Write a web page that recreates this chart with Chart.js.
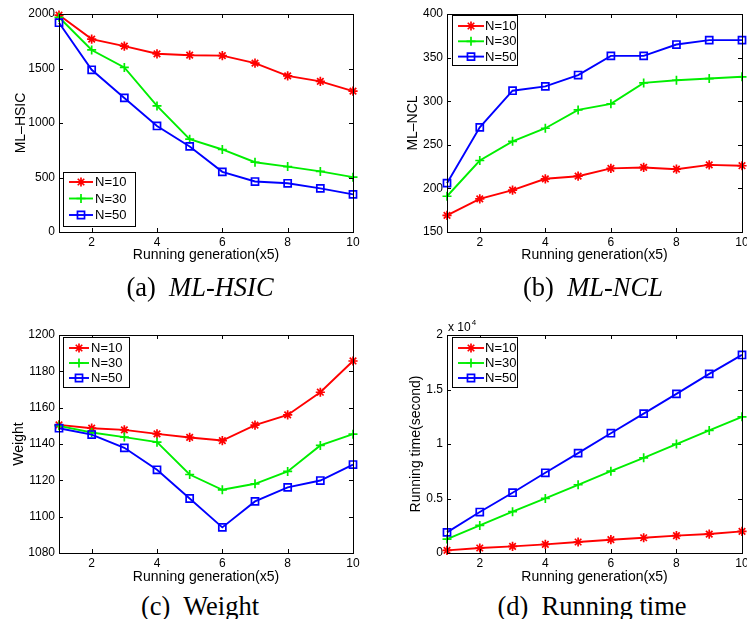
<!DOCTYPE html>
<html>
<head>
<meta charset="utf-8">
<script src="https://cdn.jsdelivr.net/npm/chart.js@4.4.1/dist/chart.umd.min.js"></script>
<style>
  html, body { margin: 0; padding: 0; background: #fff; overflow: hidden; }
  #page { position: relative; width: 747px; height: 619px; }
  canvas { position: absolute; }
  .cap {
    position: absolute; width: 300px; text-align: center;
    font-family: "Liberation Serif", "DejaVu Serif", serif; font-size: 26.5px;
    line-height: 30px; color: #000; white-space: nowrap;
  }
  .cap i { font-style: italic; }
</style>
</head>
<body>
<div id="page">
  <canvas id="chartA" width="373" height="270" style="left:0;top:0"></canvas>
  <canvas id="chartB" width="372" height="270" style="left:380px;top:0"></canvas>
  <canvas id="chartC" width="373" height="290" style="left:0;top:300px"></canvas>
  <canvas id="chartD" width="372" height="290" style="left:380px;top:300px"></canvas>
  <div class="cap" style="left:50px;top:272px">(a)&nbsp; <i>ML-HSIC</i></div>
  <div class="cap" style="left:443px;top:272px">(b)&nbsp; <i>ML-NCL</i></div>
  <div class="cap" style="left:50px;top:591px">(c)&nbsp; Weight</div>
  <div class="cap" style="left:442px;top:591px">(d)&nbsp; Running time</div>
</div>
<script>
// running generation (x5)
const generations = [1, 2, 3, 4, 5, 6, 7, 8, 9, 10];
const xTicks = [2, 4, 6, 8, 10];
const seriesLabels = ['N=10', 'N=30', 'N=50'];

// (a) ML-HSIC
const hsicN10 = [1990, 1770, 1705, 1635, 1622, 1618, 1550, 1432, 1382, 1292];
const hsicN30 = [1970, 1670, 1510, 1157, 852, 757, 640, 600, 556, 503];
const hsicN50 = [1920, 1488, 1230, 973, 785, 552, 463, 447, 400, 345];

// (b) ML-NCL
const nclN10 = [169, 188, 198, 211, 214, 223, 224, 222, 227, 226];
const nclN30 = [191, 232, 254, 269, 290, 297, 321, 324, 326, 328];
const nclN50 = [206, 270, 312, 317, 330, 352, 352, 365, 370, 370];

// (c) Weight
const weightN10 = [1150.5, 1148.7, 1147.8, 1145.6, 1143.6, 1141.9, 1150.4, 1156, 1168.5, 1185.7];
const weightN30 = [1150, 1146.3, 1143.8, 1141, 1123.2, 1114.8, 1118.1, 1124.9, 1139.2, 1145.4];
const weightN50 = [1148.7, 1145.2, 1137.9, 1125.8, 1110, 1094.1, 1108.4, 1116.1, 1119.9, 1128.7];

// (d) Running time (seconds)
const timeN10 = [240, 460, 610, 790, 1010, 1220, 1400, 1590, 1740, 1985];
const timeN30 = [1280, 2530, 3790, 5010, 6260, 7510, 8730, 9990, 11240, 12490];
const timeN50 = [1890, 3760, 5530, 7360, 9160, 10990, 12790, 14600, 16430, 18170];

const FONT = '"Liberation Sans", Arial, Helvetica, sans-serif';
Chart.defaults.font.family = FONT;
Chart.defaults.color = '#000';

// matlab-like box with inward ticks on all four sides
const framePlugin = {
  id: 'matlabFrame',
  afterDatasetsDraw(chart) {
    const { ctx, chartArea: a, scales } = chart;
    const tl = 4;
    ctx.save();
    ctx.strokeStyle = '#000';
    ctx.lineWidth = 1;
    ctx.beginPath();
    scales.x.ticks.forEach(t => {
      const px = Math.round(scales.x.getPixelForValue(t.value)) + 0.5;
      ctx.moveTo(px, a.bottom); ctx.lineTo(px, a.bottom - tl);
      ctx.moveTo(px, a.top); ctx.lineTo(px, a.top + tl);
    });
    scales.y.ticks.forEach(t => {
      const py = Math.round(scales.y.getPixelForValue(t.value)) + 0.5;
      ctx.moveTo(a.left, py); ctx.lineTo(a.left + tl, py);
      ctx.moveTo(a.right, py); ctx.lineTo(a.right - tl, py);
    });
    ctx.stroke();
    ctx.strokeRect(Math.round(a.left) + 0.5, Math.round(a.top) + 0.5,
      Math.round(a.right - a.left), Math.round(a.bottom - a.top));
    ctx.restore();
  }
};

// legend box drawn inside the plot area
const boxLegend = {
  id: 'boxLegend',
  afterDraw(chart, args, o) {
    if (!o || !o.w) return;
    const { ctx, chartArea: a } = chart;
    const x0 = Math.round(a.left + o.dx);
    const y0 = Math.round(o.corner === 'sw' ? a.bottom - o.dy - o.h : a.top + o.dy);
    ctx.save();
    ctx.fillStyle = '#fff';
    ctx.fillRect(x0, y0, o.w, o.h);
    ctx.strokeStyle = '#000';
    ctx.lineWidth = 1;
    ctx.strokeRect(x0 + 0.5, y0 + 0.5, o.w, o.h);
    chart.data.datasets.forEach((ds, i) => {
      const y = y0 + o.first + i * o.gap;
      ctx.strokeStyle = ds.borderColor;
      ctx.lineWidth = ds.borderWidth;
      ctx.beginPath();
      ctx.moveTo(x0 + o.lineFrom, y);
      ctx.lineTo(x0 + o.lineFrom + o.lineLen, y);
      ctx.stroke();
      ctx.fillStyle = 'rgba(0,0,0,0)';
      ctx.lineWidth = ds.pointBorderWidth;
      Chart.helpers.drawPoint(ctx, {
        pointStyle: ds.pointStyle, radius: ds.pointRadius,
        borderWidth: ds.pointBorderWidth, rotation: 0
      }, x0 + o.lineFrom + o.lineLen / 2, y);
      ctx.fillStyle = '#000';
      ctx.font = o.fontSize + 'px ' + FONT;
      ctx.textAlign = 'left';
      ctx.textBaseline = 'middle';
      ctx.fillText(ds.label, x0 + o.textX, y + 0.5);
    });
    ctx.restore();
  }
};

// "x 10^4" multiplier above the y axis
const expLabel = {
  id: 'expLabel',
  afterDraw(chart, args, o) {
    if (!o || !o.text) return;
    const { ctx, chartArea: a } = chart;
    ctx.save();
    ctx.fillStyle = '#000';
    ctx.textBaseline = 'alphabetic';
    ctx.font = '12px ' + FONT;
    ctx.fillText(o.text, a.left + 1, a.top - 4);
    const w = ctx.measureText(o.text).width;
    ctx.font = '8px ' + FONT;
    ctx.fillText(o.sup, a.left + 2 + w, a.top - 10);
    ctx.restore();
  }
};

function series(n10, n30, n50) {
  const mk = (lbl, vals, color, style, r, ord) => ({
    label: lbl,
    data: generations.map((g, i) => ({ x: g, y: vals[i] })),
    borderColor: color,
    backgroundColor: 'rgba(0,0,0,0)',
    pointBorderColor: color,
    pointBackgroundColor: 'rgba(0,0,0,0)',
    borderWidth: 1.9,
    pointBorderWidth: 1.7,
    pointStyle: style,
    pointRadius: r,
    pointHoverRadius: r,
    tension: 0,
    clip: false,
    order: ord
  });
  return [
    mk(seriesLabels[0], n10, '#ff0000', 'star', 4.6, 3),
    mk(seriesLabels[1], n30, '#00ee00', 'cross', 4.5, 2),
    mk(seriesLabels[2], n50, '#0000ff', 'rect', 5, 1)
  ];
}

function makeChart(id, cfg) {
  const ctx = document.getElementById(id).getContext('2d');
  return new Chart(ctx, {
    type: 'line',
    data: { datasets: series(cfg.n10, cfg.n30, cfg.n50) },
    plugins: [framePlugin, boxLegend, expLabel],
    options: {
      responsive: false,
      animation: false,
      events: [],
      layout: { padding: { left: 0, top: cfg.padTop, right: cfg.padRight, bottom: 0 } },
      plugins: {
        legend: { display: false },
        tooltip: { enabled: false },
        boxLegend: cfg.legend,
        expLabel: cfg.exp || {}
      },
      scales: {
        x: {
          type: 'linear',
          min: 1,
          max: 10,
          afterBuildTicks: s => { s.ticks = xTicks.map(v => ({ value: v })); },
          afterFit: s => { s.height = cfg.xAxisH; },
          grid: { display: false, drawTicks: false },
          border: { display: false },
          ticks: { font: { size: 12 }, padding: 3, maxRotation: 0, color: '#000' },
          title: {
            display: true, text: 'Running generation(x5)', color: '#000',
            font: { size: 14 }, padding: { top: 0, bottom: cfg.xTitlePad }
          }
        },
        y: {
          min: cfg.yMin,
          max: cfg.yMax,
          afterFit: s => { s.width = cfg.yAxisW; },
          grid: { display: false, drawTicks: false },
          border: { display: false },
          ticks: {
            stepSize: cfg.yStep, font: { size: 12 }, padding: 4, color: '#000',
            callback: cfg.yFmt || (v => v)
          },
          title: {
            display: true, text: cfg.yTitle, color: '#000',
            font: { size: 14 }, padding: { top: cfg.yTitlePad, bottom: 0 }
          }
        }
      }
    }
  });
}

makeChart('chartA', {
  n10: hsicN10, n30: hsicN30, n50: hsicN50,
  yMin: 0, yMax: 2000, yStep: 500, yTitle: 'ML\u2013HSIC',
  padTop: 14, padRight: 20, yAxisW: 59, xAxisH: 38, xTitlePad: 6, yTitlePad: 12.5,
  legend: { corner: 'sw', dx: 4, dy: 6, w: 72, h: 54, first: 10, gap: 16.5,
            lineFrom: 6, lineLen: 24, textX: 32, fontSize: 13 }
});

makeChart('chartB', {
  n10: nclN10, n30: nclN30, n50: nclN50,
  yMin: 150, yMax: 400, yStep: 50, yTitle: 'ML\u2013NCL',
  padTop: 14, padRight: 10, yAxisW: 67, xAxisH: 38, xTitlePad: 6, yTitlePad: 25,
  legend: { corner: 'nw', dx: 4.5, dy: 1, w: 65, h: 50, first: 11, gap: 15.3,
            lineFrom: 6, lineLen: 26, textX: 33, fontSize: 13 }
});

makeChart('chartC', {
  n10: weightN10, n30: weightN30, n50: weightN50,
  yMin: 1080, yMax: 1200, yStep: 20, yTitle: 'Weight',
  padTop: 35, padRight: 20, yAxisW: 59, xAxisH: 37, xTitlePad: 4.5, yTitlePad: 11,
  legend: { corner: 'nw', dx: 4, dy: 2, w: 66, h: 50, first: 11, gap: 15,
            lineFrom: 6, lineLen: 20, textX: 28, fontSize: 13 }
});

makeChart('chartD', {
  n10: timeN10, n30: timeN30, n50: timeN50,
  yMin: 0, yMax: 20000, yStep: 5000, yTitle: 'Running time(second)',
  yFmt: v => String(v / 10000),
  padTop: 35, padRight: 10, yAxisW: 67, xAxisH: 37, xTitlePad: 4.5, yTitlePad: 28,
  legend: { corner: 'nw', dx: 4.5, dy: 2, w: 65, h: 50, first: 11, gap: 15,
            lineFrom: 6, lineLen: 26, textX: 33, fontSize: 13 },
  exp: { text: 'x 10', sup: '4' }
});
</script>
</body>
</html>
